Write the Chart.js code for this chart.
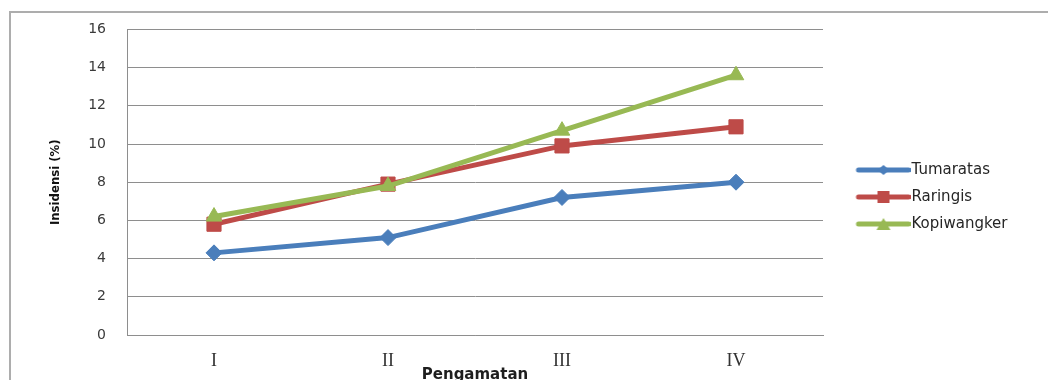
<!DOCTYPE html>
<html>
<head>
<meta charset="utf-8">
<script src="https://cdn.jsdelivr.net/npm/chart.js@4/dist/chart.umd.min.js"></script>
<style>
  html, body { margin: 0; padding: 0; background: #ffffff; }
  #wrap { position: relative; width: 1048px; height: 380px; overflow: hidden; }
  #frame {
    position: absolute; left: 9px; top: 11px; width: 1100px; height: 400px;
    border-left: 2px solid #adadad; border-top: 2px solid #adadad;
  }
  #c { position: absolute; left: 0; top: 0; }
</style>
</head>
<body>
<div id="wrap">
  <div id="frame"></div>
  <canvas id="c" width="1048" height="380"></canvas>
</div>
<script>
// Observation rounds
const categories = ['I', 'II', 'III', 'IV'];

// Incidence (%) per location
const tumaratas   = [4.3, 5.1, 7.2, 8.0];
const raringis    = [5.8, 7.9, 9.9, 10.9];
const kopiwangker = [6.2, 7.8, 10.7, 13.6];

const seriesNames = ['Tumaratas', 'Raringis', 'Kopiwangker'];
const yTicks = { min: 0, max: 16, step: 2 };

const colors = ['#4a7ebb', '#be4b48', '#98b954'];
const markers = ['rectRot', 'rect', 'triangle'];

// legend symbol: thick line with a small marker in the middle,
// drawn in the right part of a wider transparent image
const symW = 82, symLine = 54, symH = 16;
function legendSymbol(color, shape) {
  const cv = document.createElement('canvas');
  cv.width = symW; cv.height = symH;
  const g = cv.getContext('2d');
  const x0 = symW - symLine, x1 = symW, cy = symH / 2, cx = (x0 + x1) / 2;
  g.strokeStyle = color; g.lineWidth = 5; g.lineCap = 'round';
  g.beginPath(); g.moveTo(x0 + 2, cy); g.lineTo(x1 - 2, cy); g.stroke();
  g.fillStyle = color;
  g.beginPath();
  if (shape === 'rect') {
    g.rect(cx - 6, cy - 6, 12, 12);
  } else if (shape === 'rectRot') {
    g.moveTo(cx - 6, cy); g.lineTo(cx, cy - 5); g.lineTo(cx + 6, cy); g.lineTo(cx, cy + 5);
    g.closePath();
  } else {
    g.moveTo(cx, cy - 6); g.lineTo(cx + 7, cy + 6); g.lineTo(cx - 7, cy + 6);
    g.closePath();
  }
  g.fill();
  return cv;
}
const legendSymbols = colors.map((c, i) => legendSymbol(c, markers[i]));

// legend geometry
const legendFont = { family: '"DejaVu Sans", Verdana, sans-serif', size: 15 };
const legendPad = 12;
const legendBox = 69;
const plotRight = 823;
const mctx = document.createElement('canvas').getContext('2d');
mctx.font = legendFont.size + 'px ' + legendFont.family;
const maxText = Math.max(...seriesNames.map(s => mctx.measureText(s).width));
const legendWidth = legendPad + legendBox + legendFont.size / 2 + maxText + 10;
const padRight = 1048 - plotRight - legendWidth;

const seriesValues = [tumaratas, raringis, kopiwangker];
const pointSizes = [8, 10, 9];

const datasets = seriesNames.map((name, i) => ({
  label: name,
  data: seriesValues[i],
  borderColor: colors[i],
  backgroundColor: colors[i],
  borderWidth: 5,
  tension: 0,
  pointStyle: markers[i],
  pointRadius: pointSizes[i],
  pointHoverRadius: pointSizes[i],
  pointBorderWidth: 1,
  pointBackgroundColor: colors[i],
  pointBorderColor: colors[i],
  order: 3 - i
}));

const gridColor = '#8e8e8e';

new Chart(document.getElementById('c'), {
  type: 'line',
  data: { labels: categories, datasets },
  options: {
    responsive: false,
    animation: false,
    devicePixelRatio: 1,
    layout: { padding: { top: 28, bottom: 14, left: 0, right: padRight } },
    plugins: {
      tooltip: { enabled: false },
      legend: {
        position: 'right',
        align: 'center',
        labels: {
          usePointStyle: true,
          pointStyleWidth: legendBox,
          padding: legendPad,
          color: '#262626',
          font: legendFont,
          sort: (a, b) => a.datasetIndex - b.datasetIndex,
          generateLabels(chart) {
            const items = Chart.defaults.plugins.legend.labels.generateLabels(chart);
            items.forEach(it => { it.pointStyle = legendSymbols[it.datasetIndex]; });
            return items;
          }
        }
      }
    },
    scales: {
      x: {
        offset: true,
        afterFit: s => { s.height = 31; },
        grid: { display: false, drawTicks: false },
        border: { display: true, color: gridColor, width: 1 },
        ticks: {
          padding: 15,
          color: '#333333',
          font: { family: '"Liberation Serif", "Times New Roman", serif', size: 18 }
        },
        title: {
          display: true,
          text: 'Pengamatan',
          color: '#1e1e1e',
          font: { family: '"DejaVu Sans", Verdana, sans-serif', size: 15, weight: 'bold', lineHeight: 1 },
          padding: { top: 0, bottom: -17 }
        }
      },
      y: {
        min: yTicks.min,
        max: yTicks.max,
        afterFit: s => { s.width = 127; },
        grid: { color: gridColor, lineWidth: 1, drawTicks: false },
        border: { display: true, color: gridColor, width: 1 },
        ticks: {
          stepSize: yTicks.step,
          padding: 21,
          color: '#3a3a3a',
          font: { family: '"DejaVu Sans", Verdana, sans-serif', size: 14 }
        },
        title: {
          display: true,
          text: 'Insidensi (%)',
          color: '#111111',
          font: { family: '"Liberation Sans Narrow", "DejaVu Sans Condensed", "Liberation Sans", sans-serif', size: 13, weight: 'bold', lineHeight: 1.2 },
          padding: { top: 48, bottom: 0 }
        }
      }
    }
  }
});
</script>
</body>
</html>
